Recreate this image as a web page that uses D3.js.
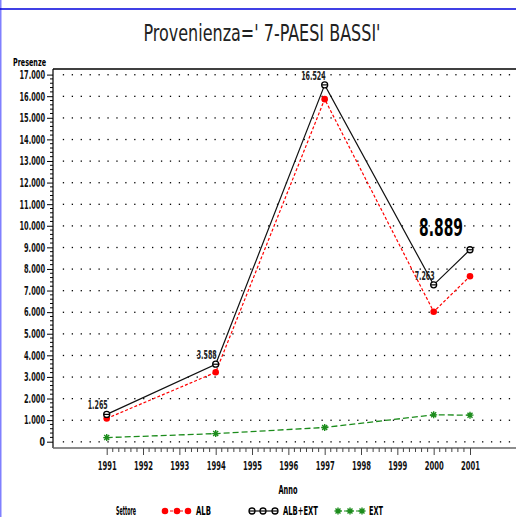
<!DOCTYPE html>
<html lang="it">
<head>
<title>Provenienza 7-PAESI BASSI</title>
<meta charset="UTF-8">
<script src="https://d3js.org/d3.v7.min.js"></script>
<style>
    body { margin: 0; background: #fff; }
    svg { display: block; font-family: "DejaVu Sans Condensed", "Liberation Sans", sans-serif; }
</style>
</head>
<body>
<svg width="516" height="517"></svg>

<script>
    // chart data
    const years = [1991, 1994, 1997, 2000, 2001];
    const alb = [1075, 3213, 15864, 6019, 7659];
    const albExt = [1265, 3588, 16524, 7263, 8889];
    const ext = [190, 375, 660, 1244, 1230];
    const yTicks = d3.range(0, 17001, 1000);
    const xTicks = d3.range(1991, 2002);
    const legendNames = ["ALB", "ALB+EXT", "EXT"];
    const fmt = d => d3.format(",")(d).replace(/,/g, ".");

    // narrow SAS-like text: squeeze to a width from the character count
    const narrow = s => s.replace(/[.]/g, "").length * 4.5 + (s.split(".").length - 1) * 2;

    var svg = d3.select("svg");

    var x = d3.scaleLinear().domain([1991, 2001]).range([106.7, 470]);
    var y = d3.scaleLinear().domain([0, 17000]).range([441.7, 74.6]);

    var pLeft = 53, pRight = 516, pTop = 69, pBottom = 448;

    // page frame pieces
    svg.append("line").attr("x1", 0.5).attr("x2", 0.5).attr("y1", 0).attr("y2", 517)
        .attr("stroke", "#8080ff").attr("stroke-width", 2);
    svg.append("line").attr("x1", 0).attr("x2", 516).attr("y1", 9).attr("y2", 9)
        .attr("stroke", "#0000dd").attr("stroke-width", 1.5);

    svg.append("text")
        .attr("x", 262).attr("y", 41)
        .attr("text-anchor", "middle")
        .attr("textLength", 237).attr("lengthAdjust", "spacingAndGlyphs")
        .style("font-size", "23px")
        .style("font-weight", "300")
        .style("fill", "#222")
        .text("Provenienza=' 7-PAESI BASSI'");

    // dotted grid
    var dotXs = d3.range(0, 51).map(i => 63.3 + i * 8.92);
    yTicks.forEach(function(t) {
        svg.append("g").selectAll("rect")
            .data(dotXs)
            .enter().append("rect")
            .attr("x", d => d - 0.5)
            .attr("y", y(t) - 0.5)
            .attr("width", 1.3).attr("height", 1.3)
            .attr("fill", "#000");
    });

    // frame
    svg.append("line").attr("x1", pLeft).attr("x2", pRight).attr("y1", pTop).attr("y2", pTop)
        .attr("stroke", "#000").attr("stroke-width", 1.5);
    svg.append("line").attr("x1", pLeft).attr("x2", pLeft).attr("y1", pTop).attr("y2", pBottom)
        .attr("stroke", "#000").attr("stroke-width", 1.2);
    svg.append("line").attr("x1", pLeft).attr("x2", pRight).attr("y1", pBottom).attr("y2", pBottom)
        .attr("stroke", "#666").attr("stroke-width", 1.5);

    // y axis
    var gy = svg.append("g").attr("transform", "translate(" + pLeft + ",0)");
    gy.call(d3.axisLeft(y).tickValues(yTicks).tickSize(6).tickPadding(2).tickFormat(fmt));
    gy.select(".domain").remove();
    gy.selectAll(".tick text")
        .style("font-size", "12px").style("font-family", "DejaVu Sans").style("font-weight", "bold")
        .attr("textLength", d => narrow(fmt(d)) + 1).attr("lengthAdjust", "spacingAndGlyphs")
        .attr("fill", "#111");
    var yMinor = d3.range(0, 17001, 200).filter(d => d % 1000 !== 0);
    gy.selectAll(".minor").data(yMinor).enter().append("line")
        .attr("class", "minor")
        .attr("x1", -3).attr("x2", 0)
        .attr("y1", d => y(d)).attr("y2", d => y(d))
        .attr("stroke", "#000");

    svg.append("text")
        .attr("x", 46).attr("y", 66)
        .attr("text-anchor", "end")
        .attr("textLength", 33).attr("lengthAdjust", "spacingAndGlyphs")
        .style("font-size", "10.5px").style("font-family", "DejaVu Sans").style("font-weight", "bold")
        .text("Presenze");

    // x axis
    var gx = svg.append("g").attr("transform", "translate(0," + pBottom + ")");
    gx.call(d3.axisBottom(x).tickValues(xTicks).tickSize(7).tickPadding(6).tickFormat(d3.format("d")));
    gx.select(".domain").remove();
    gx.selectAll(".tick line").attr("stroke", "#444");
    gx.selectAll(".tick text")
        .style("font-size", "12px").style("font-family", "DejaVu Sans").style("font-weight", "bold")
        .attr("textLength", 19).attr("lengthAdjust", "spacingAndGlyphs")
        .attr("fill", "#111");
    var xMinor = [];
    xTicks.slice(0, -1).forEach(function(t) {
        for (var k = 1; k < 6; k++) xMinor.push(t + k / 6);
    });
    gx.selectAll(".minor").data(xMinor).enter().append("line")
        .attr("class", "minor")
        .attr("x1", d => x(d)).attr("x2", d => x(d))
        .attr("y1", 0).attr("y2", 4)
        .attr("stroke", "#444");

    svg.append("text")
        .attr("x", 288).attr("y", 494)
        .attr("text-anchor", "middle")
        .attr("textLength", 19).attr("lengthAdjust", "spacingAndGlyphs")
        .style("font-size", "11.5px").style("font-family", "DejaVu Sans").style("font-weight", "bold")
        .text("Anno");

    // series
    var line = d3.line().x(d => x(d[0])).y(d => y(d[1]));
    var red = "#ff0000", green = "#1c8c1c";

    svg.append("path")
        .datum(years.map((yr, i) => [yr, ext[i]]))
        .attr("d", line).attr("fill", "none")
        .attr("stroke", green).attr("stroke-width", 1.3).attr("stroke-dasharray", "6,3");
    svg.append("path")
        .datum(years.map((yr, i) => [yr, alb[i]]))
        .attr("d", line).attr("fill", "none")
        .attr("stroke", red).attr("stroke-width", 1.2).attr("stroke-dasharray", "3,2");
    svg.append("path")
        .datum(years.map((yr, i) => [yr, albExt[i]]))
        .attr("d", line).attr("fill", "none")
        .attr("stroke", "#111").attr("stroke-width", 1.2);

    function star(g, cx, cy) {
        g.append("path")
            .attr("d", "M" + (cx - 3.5) + "," + cy + "h7M" + cx + "," + (cy - 3.5) + "v7M" +
                (cx - 2.5) + "," + (cy - 2.5) + "l5,5M" + (cx - 2.5) + "," + (cy + 2.5) + "l5,-5")
            .attr("stroke", green).attr("stroke-width", 1.4);
    }
    function ring(g, cx, cy) {
        g.append("circle").attr("cx", cx).attr("cy", cy).attr("r", 3)
            .attr("fill", "#fff").attr("stroke", "#000").attr("stroke-width", 1.3);
        g.append("line").attr("x1", cx - 3).attr("x2", cx + 3).attr("y1", cy).attr("y2", cy)
            .attr("stroke", "#000").attr("stroke-width", 1.2);
    }
    function dot(g, cx, cy) {
        g.append("circle").attr("cx", cx).attr("cy", cy).attr("r", 3.3).attr("fill", red);
    }

    var marks = svg.append("g");
    years.forEach(function(yr, i) {
        star(marks, x(yr), y(ext[i]));
        dot(marks, x(yr), y(alb[i]));
        ring(marks, x(yr), y(albExt[i]));
    });

    // point labels for ALB+EXT, the last one big
    years.forEach(function(yr, i) {
        var last = i === years.length - 1;
        svg.append("text")
            .attr("x", last ? x(yr) - 7 : x(yr) + 1)
            .attr("y", last ? y(albExt[i]) - 14 : y(albExt[i]) - 5)
            .attr("text-anchor", "end")
            .attr("textLength", last ? 44 : narrow(fmt(albExt[i])))
            .attr("lengthAdjust", "spacingAndGlyphs")
            .style("font-size", last ? "24px" : "12px")
            .style("font-weight", "bold")
            .style("font-family", "DejaVu Sans")
            .attr("fill", last ? "#000" : "#222")
            .text(fmt(albExt[i]));
    });

    // legend
    var lg = svg.append("g");
    var ly = 511;
    lg.append("text").attr("x", 116).attr("y", ly + 4)
        .attr("textLength", 20).attr("lengthAdjust", "spacingAndGlyphs")
        .style("font-size", "11.5px").style("font-family", "DejaVu Sans").style("font-weight", "bold").text("Settore");
    var xs = [165, 252, 338], widths = [15, 35, 14];
    legendNames.forEach(function(name, i) {
        var x0 = xs[i];
        var l = lg.append("line").attr("x1", x0).attr("x2", x0 + 24).attr("y1", ly).attr("y2", ly)
            .attr("stroke-width", 1.2);
        if (i === 0) { l.attr("stroke", red).attr("stroke-dasharray", "3,2"); [0, 12, 23].forEach(o => dot(lg, x0 + o, ly)); }
        if (i === 1) { l.attr("stroke", "#111"); [0, 11, 23].forEach(o => ring(lg, x0 + o, ly)); }
        if (i === 2) { l.attr("stroke", green).attr("stroke-dasharray", "4,2"); [0, 12, 24].forEach(o => star(lg, x0 + o, ly)); }
        lg.append("text").attr("x", x0 + 31).attr("y", ly + 4)
            .attr("textLength", widths[i]).attr("lengthAdjust", "spacingAndGlyphs")
            .style("font-size", "11.5px").style("font-family", "DejaVu Sans").style("font-weight", "bold").text(name);
    });
</script>
</body>
</html>
